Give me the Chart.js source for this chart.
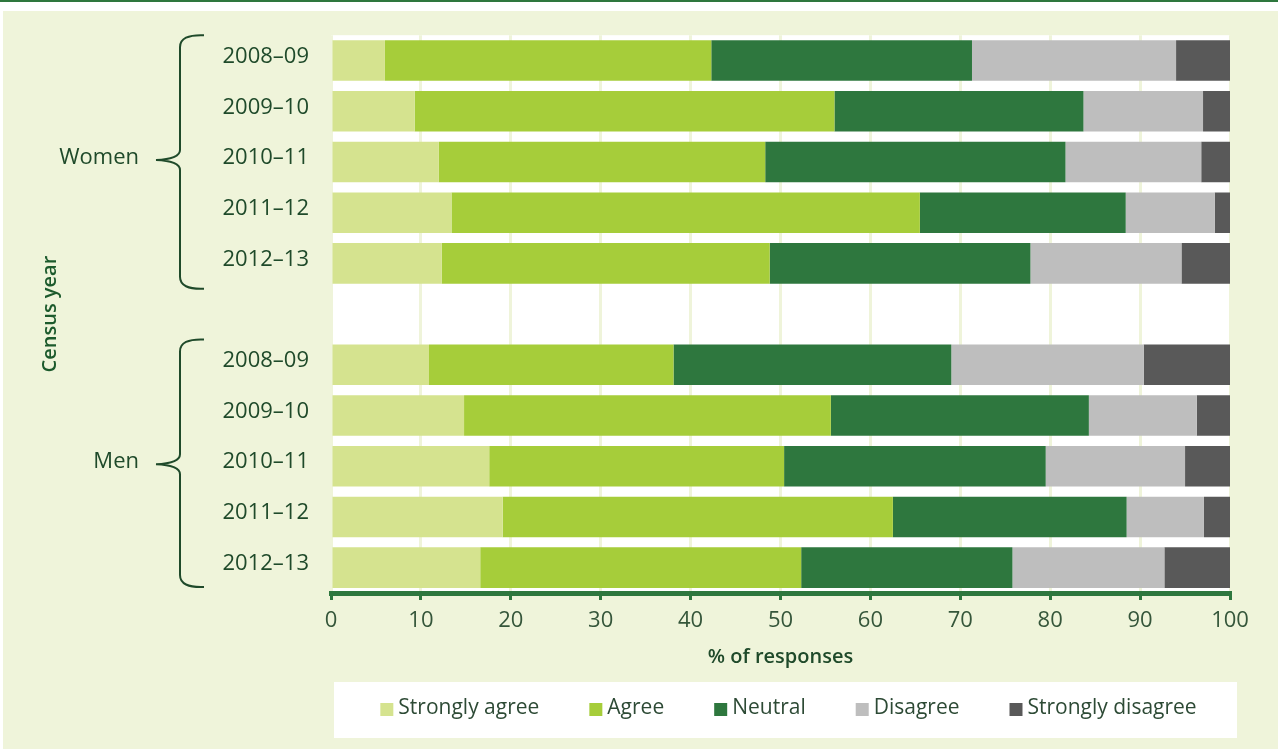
<!DOCTYPE html>
<html>
<head>
<meta charset="utf-8">
<script src="https://cdn.jsdelivr.net/npm/chart.js@4.4.1/dist/chart.umd.min.js"></script>
<style>
  html, body { margin: 0; padding: 0; background: #ffffff; }
  canvas { display: block; }
</style>
</head>
<body>
<canvas id="myChart" width="1278" height="749"></canvas>
<script>
// census years, shown once for women and once for men with an empty row between
var years = ['2008–09', '2009–10', '2010–11', '2011–12', '2012–13'];
var groups = ['Women', 'Men'];
var rowLabels = years.concat([''], years);

// % of responses, rows: women 2008-09..2012-13, gap, men 2008-09..2012-13
var stronglyAgree    = [6.0, 9.3, 12.0, 13.4, 12.3, null, 10.9, 14.8, 17.6, 19.1, 16.6];
var agree            = [36.3, 46.7, 36.3, 52.1, 36.5, null, 27.2, 40.8, 32.8, 43.4, 35.7];
var neutral          = [29.0, 27.7, 33.4, 22.9, 29.0, null, 30.9, 28.7, 29.1, 26.0, 23.5];
var disagree         = [22.7, 13.3, 15.1, 9.9, 16.8, null, 21.4, 12.0, 15.5, 8.6, 16.9];
var stronglyDisagree = [6.0, 3.0, 3.2, 1.7, 5.4, null, 9.6, 3.7, 5.0, 2.9, 7.3];

var xTicks = [0, 10, 20, 30, 40, 50, 60, 70, 80, 90, 100];

var panelColor = '#eff4da';
var darkGreen = '#2e773e';
var textColor = '#1f4a2a';
var FONT = '"Open Sans", "Noto Sans", sans-serif';

// background, white plot area, group braces and the legend box
var decorations = {
  id: 'decorations',
  beforeDraw: function (chart) {
    var c = chart.ctx, a = chart.chartArea;
    c.save();
    c.fillStyle = '#ffffff';
    c.fillRect(0, 0, chart.width, chart.height);
    c.fillStyle = darkGreen;
    c.fillRect(0, 0, chart.width, 2);
    c.fillStyle = panelColor;
    c.fillRect(3, 11, chart.width - 3, chart.height - 11);
    c.fillStyle = '#ffffff';
    c.fillRect(a.left, a.top, a.right - a.left, a.bottom - a.top);
    c.restore();
  },
  afterDraw: function (chart) {
    var c = chart.ctx;
    var y = chart.scales.y;
    var half = (y.getPixelForValue(1) - y.getPixelForValue(0)) / 2;
    c.save();

    // braces with group names
    groups.forEach(function (g, i) {
      var first = i * (years.length + 1);
      var last = first + years.length - 1;
      var top = y.getPixelForValue(first) - half;
      var bot = y.getPixelForValue(last) + half - (i === 1 ? 6 : 0);
      var mid = y.getPixelForValue((first + last) / 2) - 2;
      var xv = 180, xe = 204, xt = 156;
      c.strokeStyle = textColor;
      c.lineWidth = 2;
      c.beginPath();
      c.moveTo(xe, top);
      c.quadraticCurveTo(xv, top - 1, xv, top + 12);
      c.lineTo(xv, mid - 10);
      c.quadraticCurveTo(xv, mid - 1, xt, mid);
      c.quadraticCurveTo(xv, mid + 1, xv, mid + 10);
      c.lineTo(xv, bot - 12);
      c.quadraticCurveTo(xv, bot + 1, xe, bot);
      c.stroke();
      c.fillStyle = textColor;
      c.font = '22px ' + FONT;
      c.textAlign = 'right';
      c.textBaseline = 'middle';
      c.fillText(g, 139, mid - 2);
    });

    // legend
    var bx = 334, by = 682, bw = 903, bh = 56;
    c.fillStyle = '#ffffff';
    c.fillRect(bx, by, bw, bh);
    c.font = '21px ' + FONT;
    c.textAlign = 'left';
    c.textBaseline = 'alphabetic';
    var sq = 13, gapText = 5, gapItem = 50;
    var ds = chart.data.datasets;
    var widths = ds.map(function (d) { return sq + gapText + c.measureText(d.label).width; });
    var total = widths.reduce(function (s, w) { return s + w; }, 0) + gapItem * (ds.length - 1);
    var x = bx + bw / 2 - total / 2 + 3;
    ds.forEach(function (d, i) {
      c.fillStyle = d.backgroundColor;
      c.fillRect(x, 703, sq, sq);
      c.fillStyle = '#2d4a35';
      c.fillText(d.label, x + sq + gapText, 714);
      x += widths[i] + gapItem;
    });
    c.restore();
  }
};

var ctx = document.getElementById('myChart').getContext('2d');
var myChart = new Chart(ctx, {
  type: 'bar',
  data: {
    labels: rowLabels,
    datasets: [
      { label: 'Strongly agree', data: stronglyAgree, backgroundColor: '#d5e38f' },
      { label: 'Agree', data: agree, backgroundColor: '#a6cd3a' },
      { label: 'Neutral', data: neutral, backgroundColor: '#2e773e' },
      { label: 'Disagree', data: disagree, backgroundColor: '#bebebe' },
      { label: 'Strongly disagree', data: stronglyDisagree, backgroundColor: '#595959' }
    ]
  },
  options: {
    indexAxis: 'y',
    responsive: false,
    animation: false,
    datasets: {
      bar: { barPercentage: 1, categoryPercentage: 0.8, borderWidth: 0 }
    },
    layout: { padding: { left: 0, top: 34, right: 48, bottom: 80 } },
    plugins: {
      legend: { display: false },
      tooltip: { enabled: false }
    },
    scales: {
      x: {
        stacked: true,
        min: 0,
        max: 100,
        afterBuildTicks: function (s) { s.ticks = xTicks.map(function (v) { return { value: v }; }); },
        afterFit: function (s) { s.height = 76; },
        ticks: {
          color: '#35563a',
          font: { family: FONT, size: 22 },
          padding: 8,
          maxRotation: 0
        },
        grid: {
          color: panelColor,
          lineWidth: 3,
          drawTicks: true,
          tickLength: 7,
          tickColor: darkGreen,
          tickWidth: 3
        },
        border: { display: true, color: darkGreen, width: 5 },
        title: {
          display: true,
          text: '% of responses',
          color: textColor,
          font: { family: FONT, size: 20, weight: '600' },
          padding: { top: 0, bottom: 0 }
        }
      },
      y: {
        stacked: true,
        afterFit: function (s) { s.width = 331; },
        ticks: {
          color: textColor,
          font: { family: FONT, size: 22 },
          padding: 22,
          labelOffset: -4
        },
        grid: { display: false, drawTicks: false },
        border: { display: false },
        title: {
          display: true,
          text: 'Census year',
          color: '#1c5a2c',
          font: { family: FONT, size: 20, weight: '600' },
          padding: { top: 38, bottom: 0 }
        }
      }
    }
  },
  plugins: [decorations]
});
</script>
</body>
</html>
